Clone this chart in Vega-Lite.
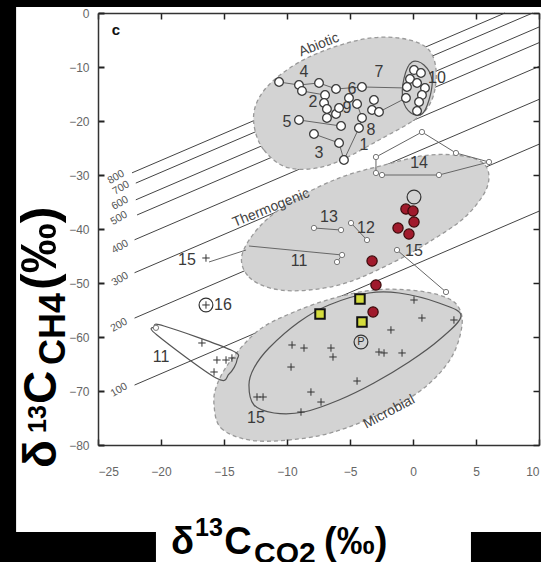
{
  "$schema": "https://vega.github.io/schema/vega-lite/v6.json",
  "width": 441,
  "height": 432,
  "autosize": {"type": "none"},
  "padding": {"left": 98, "top": 13, "right": 2, "bottom": 117},
  "background": "black",
  "config": {"view": {"stroke": null}, "font": "Liberation Sans"},
  "datasets": {
    "isotherms": [
      {"t": "800", "x": -22.3, "y": -29.6}, {"t": "800", "x": 7.3, "y": 0},
      {"t": "700", "x": -22.0, "y": -31.5}, {"t": "700", "x": 9.5, "y": 0},
      {"t": "600", "x": -22.0, "y": -34.6}, {"t": "600", "x": 10, "y": -2.6},
      {"t": "500", "x": -21.9, "y": -37.4}, {"t": "500", "x": 10, "y": -5.5},
      {"t": "400", "x": -22.1, "y": -42.0}, {"t": "400", "x": 10, "y": -9.9},
      {"t": "300", "x": -22.1, "y": -48.1}, {"t": "300", "x": 10, "y": -16.0},
      {"t": "200", "x": -22.1, "y": -56.5}, {"t": "200", "x": 10, "y": -24.3},
      {"t": "100", "x": -22.1, "y": -68.9}, {"t": "100", "x": 10, "y": -36.7}
    ],
    "isoLabels": [
      {"t": "800", "x": -23.57, "y": -30.4},
      {"t": "700", "x": -23.17, "y": -32.4},
      {"t": "600", "x": -23.25, "y": -35.2},
      {"t": "500", "x": -23.33, "y": -38.0},
      {"t": "400", "x": -23.25, "y": -43.3},
      {"t": "300", "x": -23.25, "y": -49.3},
      {"t": "200", "x": -23.33, "y": -57.8},
      {"t": "100", "x": -23.33, "y": -69.8}
    ],
    "regions": [
      {"r": "Abiotic", "i": 0, "x": -12.62, "y": -20.74},
      {"r": "Abiotic", "i": 1, "x": -11.83, "y": -25.37},
      {"r": "Abiotic", "i": 2, "x": -9.84, "y": -28.7},
      {"r": "Abiotic", "i": 3, "x": -6.67, "y": -28.15},
      {"r": "Abiotic", "i": 4, "x": -2.7, "y": -23.52},
      {"r": "Abiotic", "i": 5, "x": 0.87, "y": -18.33},
      {"r": "Abiotic", "i": 6, "x": 1.83, "y": -12.41},
      {"r": "Abiotic", "i": 7, "x": 1.27, "y": -6.85},
      {"r": "Abiotic", "i": 8, "x": -1.11, "y": -4.63},
      {"r": "Abiotic", "i": 9, "x": -4.29, "y": -5.0},
      {"r": "Abiotic", "i": 10, "x": -8.25, "y": -8.15},
      {"r": "Abiotic", "i": 11, "x": -11.03, "y": -12.41},
      {"r": "Abiotic", "i": 12, "x": -12.38, "y": -16.48},
      {"r": "Thermogenic", "i": 0, "x": -13.57, "y": -44.81},
      {"r": "Thermogenic", "i": 1, "x": -13.02, "y": -48.89},
      {"r": "Thermogenic", "i": 2, "x": -11.03, "y": -51.11},
      {"r": "Thermogenic", "i": 3, "x": -8.25, "y": -51.3},
      {"r": "Thermogenic", "i": 4, "x": -5.08, "y": -49.81},
      {"r": "Thermogenic", "i": 5, "x": -1.51, "y": -46.11},
      {"r": "Thermogenic", "i": 6, "x": 1.27, "y": -42.41},
      {"r": "Thermogenic", "i": 7, "x": 4.05, "y": -37.96},
      {"r": "Thermogenic", "i": 8, "x": 5.79, "y": -32.78},
      {"r": "Thermogenic", "i": 9, "x": 5.87, "y": -28.7},
      {"r": "Thermogenic", "i": 10, "x": 4.44, "y": -26.67},
      {"r": "Thermogenic", "i": 11, "x": 1.27, "y": -26.3},
      {"r": "Thermogenic", "i": 12, "x": -2.3, "y": -28.15},
      {"r": "Thermogenic", "i": 13, "x": -5.87, "y": -30.56},
      {"r": "Thermogenic", "i": 14, "x": -9.44, "y": -34.63},
      {"r": "Thermogenic", "i": 15, "x": -12.06, "y": -39.26},
      {"r": "Microbial", "i": 0, "x": -15.79, "y": -72.59},
      {"r": "Microbial", "i": 1, "x": -15.24, "y": -76.85},
      {"r": "Microbial", "i": 2, "x": -13.02, "y": -79.07},
      {"r": "Microbial", "i": 3, "x": -9.84, "y": -79.07},
      {"r": "Microbial", "i": 4, "x": -6.27, "y": -77.59},
      {"r": "Microbial", "i": 5, "x": -2.3, "y": -73.89},
      {"r": "Microbial", "i": 6, "x": 0.87, "y": -69.44},
      {"r": "Microbial", "i": 7, "x": 3.02, "y": -63.89},
      {"r": "Microbial", "i": 8, "x": 3.89, "y": -57.78},
      {"r": "Microbial", "i": 9, "x": 3.49, "y": -54.07},
      {"r": "Microbial", "i": 10, "x": 2.06, "y": -52.22},
      {"r": "Microbial", "i": 11, "x": -0.32, "y": -51.3},
      {"r": "Microbial", "i": 12, "x": -3.1, "y": -51.3},
      {"r": "Microbial", "i": 13, "x": -6.27, "y": -52.78},
      {"r": "Microbial", "i": 14, "x": -9.44, "y": -55.37},
      {"r": "Microbial", "i": 15, "x": -12.22, "y": -58.7},
      {"r": "Microbial", "i": 16, "x": -14.44, "y": -64.26},
      {"r": "Microbial", "i": 17, "x": -15.56, "y": -68.89}
    ],
    "outlines": [
      {"g": "microbial core", "i": 0, "x": -13.02, "y": -68.89},
      {"g": "microbial core", "i": 1, "x": -12.62, "y": -72.59},
      {"g": "microbial core", "i": 2, "x": -11.03, "y": -74.07},
      {"g": "microbial core", "i": 3, "x": -8.65, "y": -73.89},
      {"g": "microbial core", "i": 4, "x": -5.87, "y": -71.67},
      {"g": "microbial core", "i": 5, "x": -3.1, "y": -68.52},
      {"g": "microbial core", "i": 6, "x": -0.32, "y": -64.63},
      {"g": "microbial core", "i": 7, "x": 2.06, "y": -60.56},
      {"g": "microbial core", "i": 8, "x": 3.81, "y": -56.11},
      {"g": "microbial core", "i": 9, "x": 2.06, "y": -53.7},
      {"g": "microbial core", "i": 10, "x": -1.11, "y": -51.85},
      {"g": "microbial core", "i": 11, "x": -3.49, "y": -51.85},
      {"g": "microbial core", "i": 12, "x": -6.67, "y": -54.07},
      {"g": "microbial core", "i": 13, "x": -9.05, "y": -57.22},
      {"g": "microbial core", "i": 14, "x": -11.43, "y": -62.04},
      {"g": "microbial core", "i": 15, "x": -12.62, "y": -65.74},
      {"g": "site 11", "i": 0, "x": -20.56, "y": -58.15},
      {"g": "site 11", "i": 1, "x": -19.76, "y": -57.96},
      {"g": "site 11", "i": 2, "x": -14.44, "y": -62.41},
      {"g": "site 11", "i": 3, "x": -13.97, "y": -64.26},
      {"g": "site 11", "i": 4, "x": -14.6, "y": -66.85},
      {"g": "site 11", "i": 5, "x": -15.63, "y": -67.59},
      {"g": "site 11", "i": 6, "x": -20.32, "y": -59.63},
      {"g": "site 10", "i": 0, "x": -0.08, "y": -9.07},
      {"g": "site 10", "i": 1, "x": 0.87, "y": -9.63},
      {"g": "site 10", "i": 2, "x": 1.51, "y": -12.41},
      {"g": "site 10", "i": 3, "x": 1.27, "y": -16.11},
      {"g": "site 10", "i": 4, "x": 0.71, "y": -18.7},
      {"g": "site 10", "i": 5, "x": -0.16, "y": -18.52},
      {"g": "site 10", "i": 6, "x": -0.79, "y": -16.11},
      {"g": "site 10", "i": 7, "x": -0.71, "y": -12.04}
    ],
    "paths": [
      {"g": "4", "i": 0, "x": -10.63, "y": -12.78},
      {"g": "4", "i": 1, "x": -9.05, "y": -13.33},
      {"g": "4", "i": 2, "x": -7.46, "y": -12.96},
      {"g": "4", "i": 3, "x": -6.11, "y": -14.07},
      {"g": "7", "i": 0, "x": -6.11, "y": -14.07},
      {"g": "7", "i": 1, "x": -4.05, "y": -13.7},
      {"g": "7", "i": 2, "x": -0.48, "y": -13.89},
      {"g": "2", "i": 0, "x": -8.81, "y": -14.44},
      {"g": "2", "i": 1, "x": -6.98, "y": -15.19},
      {"g": "2", "i": 2, "x": -7.06, "y": -16.67},
      {"g": "2", "i": 3, "x": -6.83, "y": -19.44},
      {"g": "2", "i": 4, "x": -6.11, "y": -18.7},
      {"g": "2", "i": 5, "x": -5.87, "y": -17.59},
      {"g": "6", "i": 0, "x": -4.44, "y": -16.85},
      {"g": "6", "i": 1, "x": -4.05, "y": -19.44},
      {"g": "6", "i": 2, "x": -4.29, "y": -21.3},
      {"g": "8", "i": 0, "x": -3.25, "y": -17.96},
      {"g": "8", "i": 1, "x": -2.7, "y": -18.33},
      {"g": "8", "i": 2, "x": -0.56, "y": -15.74},
      {"g": "5", "i": 0, "x": -9.05, "y": -19.81},
      {"g": "5", "i": 1, "x": -5.71, "y": -20.93},
      {"g": "3", "i": 0, "x": -7.86, "y": -22.41},
      {"g": "3", "i": 1, "x": -5.87, "y": -24.07},
      {"g": "3", "i": 2, "x": -5.48, "y": -27.22},
      {"g": "1", "i": 0, "x": -5.48, "y": -27.22},
      {"g": "1", "i": 1, "x": -4.29, "y": -21.3},
      {"g": "14", "i": 0, "x": -2.94, "y": -26.67},
      {"g": "14", "i": 1, "x": 0.71, "y": -22.04},
      {"g": "14", "i": 2, "x": 3.41, "y": -25.93},
      {"g": "14", "i": 3, "x": 6.03, "y": -27.59},
      {"g": "14", "i": 4, "x": 2.06, "y": -30.0},
      {"g": "14", "i": 5, "x": -2.46, "y": -30.0},
      {"g": "14", "i": 6, "x": -2.94, "y": -29.63},
      {"g": "14", "i": 7, "x": -2.94, "y": -26.67},
      {"g": "13", "i": 0, "x": -7.86, "y": -39.81},
      {"g": "13", "i": 1, "x": -5.71, "y": -40.19},
      {"g": "12", "i": 0, "x": -4.92, "y": -38.89},
      {"g": "12", "i": 1, "x": -3.65, "y": -42.04},
      {"g": "11t", "i": 0, "x": -13.02, "y": -43.15},
      {"g": "11t", "i": 1, "x": -5.63, "y": -44.81},
      {"g": "11t", "i": 2, "x": -6.03, "y": -46.11},
      {"g": "15t", "i": 0, "x": -1.27, "y": -43.89},
      {"g": "15t", "i": 1, "x": 2.62, "y": -51.67},
      {"g": "15l", "i": 0, "x": -16.19, "y": -46.11},
      {"g": "15l", "i": 1, "x": -13.25, "y": -43.89}
    ],
    "abiotic": [
      {"x": -10.63, "y": -12.78}, {"x": -9.05, "y": -13.33}, {"x": -8.81, "y": -14.44},
      {"x": -7.46, "y": -12.96}, {"x": -6.98, "y": -15.19}, {"x": -6.11, "y": -14.07},
      {"x": -7.06, "y": -16.67}, {"x": -6.83, "y": -17.78}, {"x": -6.83, "y": -19.44},
      {"x": -6.11, "y": -18.7}, {"x": -5.87, "y": -17.59}, {"x": -5.71, "y": -20.93},
      {"x": -4.05, "y": -13.7}, {"x": -4.44, "y": -16.85}, {"x": -4.05, "y": -19.44},
      {"x": -4.29, "y": -21.3}, {"x": -3.1, "y": -16.11}, {"x": -3.25, "y": -17.96},
      {"x": -2.7, "y": -18.33}, {"x": -9.05, "y": -19.81}, {"x": -7.86, "y": -22.41},
      {"x": -5.87, "y": -24.07}, {"x": -5.48, "y": -27.22}, {"x": -5.08, "y": -15.74},
      {"x": 0.08, "y": -10.56}, {"x": 0.63, "y": -11.11}, {"x": -0.24, "y": -12.22},
      {"x": 0.32, "y": -12.96}, {"x": 0.95, "y": -13.89}, {"x": -0.48, "y": -13.7},
      {"x": 0.71, "y": -15.19}, {"x": -0.56, "y": -15.74}, {"x": 0.48, "y": -16.48},
      {"x": 0.32, "y": -18.15}
    ],
    "thermo": [
      {"x": -2.94, "y": -26.67}, {"x": 0.71, "y": -22.04}, {"x": 3.41, "y": -25.93},
      {"x": 6.03, "y": -27.59}, {"x": 2.06, "y": -30.0}, {"x": -2.46, "y": -30.0},
      {"x": -2.94, "y": -29.63}, {"x": -7.86, "y": -39.81}, {"x": -5.71, "y": -40.19},
      {"x": -4.92, "y": -38.89}, {"x": -3.65, "y": -42.04}, {"x": -5.63, "y": -44.81},
      {"x": -6.03, "y": -46.11}, {"x": -1.27, "y": -43.89}, {"x": 2.62, "y": -51.67},
      {"x": -20.4, "y": -58.3}
    ],
    "pluses": [
      {"x": 0.08, "y": -53.15}, {"x": 0.71, "y": -56.48}, {"x": 3.25, "y": -56.85},
      {"x": -1.75, "y": -58.7}, {"x": -9.6, "y": -61.48}, {"x": -8.65, "y": -62.04},
      {"x": -6.51, "y": -62.04}, {"x": -6.35, "y": -63.7}, {"x": -2.7, "y": -62.78},
      {"x": -2.3, "y": -62.96}, {"x": -0.87, "y": -62.96}, {"x": -9.68, "y": -65.56},
      {"x": -4.44, "y": -68.15}, {"x": -8.1, "y": -70.19}, {"x": -7.3, "y": -72.04},
      {"x": -8.89, "y": -73.89}, {"x": -12.38, "y": -71.11}, {"x": -11.9, "y": -71.11},
      {"x": -16.75, "y": -61.11}, {"x": -15.56, "y": -64.26}, {"x": -14.84, "y": -64.26},
      {"x": -14.37, "y": -63.89}, {"x": -15.79, "y": -66.48}, {"x": -16.43, "y": -45.37},
      {"x": -16.43, "y": -54.07}
    ],
    "red": [
      {"x": -0.56, "y": -36.3}, {"x": 0.0, "y": -36.67}, {"x": 0.08, "y": -38.7},
      {"x": -1.19, "y": -39.81}, {"x": -0.32, "y": -40.93}, {"x": -3.25, "y": -45.93},
      {"x": -2.94, "y": -50.37}, {"x": -3.17, "y": -55.37}
    ],
    "yellow": [
      {"x": -7.38, "y": -55.74}, {"x": -4.21, "y": -52.96}, {"x": -4.05, "y": -57.22}
    ],
    "rings": [
      {"s": "P", "x": -4.13, "y": -60.93},
      {"s": "", "x": -16.43, "y": -54.07},
      {"s": "", "x": 0.08, "y": -34.07}
    ],
    "labels": [
      {"text": "4", "x": -8.65, "y": -10.93}, {"text": "7", "x": -2.7, "y": -10.93},
      {"text": "6", "x": -4.84, "y": -14.07}, {"text": "2", "x": -7.94, "y": -16.48},
      {"text": "9", "x": -5.24, "y": -17.59}, {"text": "5", "x": -10.0, "y": -20.19},
      {"text": "8", "x": -3.33, "y": -21.67}, {"text": "3", "x": -7.46, "y": -25.93},
      {"text": "1", "x": -3.89, "y": -24.44}, {"text": "10", "x": 1.9, "y": -12.04},
      {"text": "14", "x": 0.48, "y": -27.78}, {"text": "13", "x": -6.67, "y": -37.78},
      {"text": "12", "x": -3.73, "y": -39.81}, {"text": "11", "x": -9.05, "y": -45.93},
      {"text": "15", "x": 0.08, "y": -44.07}, {"text": "15", "x": -17.94, "y": -45.74},
      {"text": "16", "x": -15.08, "y": -54.07}, {"text": "11", "x": -20.0, "y": -63.7},
      {"text": "15", "x": -12.46, "y": -75.0}
    ],
    "regionLabels": [
      {"text": "Abiotic", "x": -7.46, "y": -5.93},
      {"text": "Thermogenic", "x": -11.27, "y": -36.11}
    ],
    "yTitle": [
      {"part": "δ", "role": "main", "x": -28.33, "y": -84.26},
      {"part": "13", "role": "sup", "x": -29.13, "y": -77.78},
      {"part": "C", "role": "main", "x": -28.33, "y": -72.41},
      {"part": "CH4", "role": "sub", "x": -27.62, "y": -65.19},
      {"part": "(‰)", "role": "unit", "x": -28.33, "y": -51.3}
    ],
    "xTitle": [
      {"part": "δ", "role": "main", "x": -19.21, "y": -100.19},
      {"part": "13", "role": "sup", "x": -17.3, "y": -96.85},
      {"part": "C", "role": "main", "x": -14.99, "y": -100.19},
      {"part": "CO2", "role": "sub", "x": -12.62, "y": -101.85},
      {"part": "(‰)", "role": "main", "x": -7.06, "y": -100.19}
    ]
  },
  "resolve": {"axis": {"x": "independent", "y": "independent"}},
  "layer": [
    {
      "data": {"values": [{"panel": 1}]},
      "mark": {"type": "rect", "fill": "white"},
      "encoding": {
        "x": {"datum": -31.5, "type": "quantitative", "scale": {"domain": [-25, 10], "nice": false, "zero": false}, "axis": null},
        "x2": {"datum": 10.2},
        "y": {"datum": 1.1, "type": "quantitative", "scale": {"domain": [-80, 0], "nice": false, "zero": false}, "axis": null},
        "y2": {"datum": -96.1}
      }
    },
    {
      "data": {"values": [{"panel": 2}]},
      "mark": {"type": "rect", "fill": "white"},
      "encoding": {
        "x": {"datum": -20.4, "type": "quantitative", "axis": null},
        "x2": {"datum": 4.6},
        "y": {"datum": -95, "type": "quantitative", "axis": null},
        "y2": {"datum": -103}
      }
    },
    {
      "data": {"name": "isotherms"},
      "mark": {"type": "line", "stroke": "#444", "strokeWidth": 1},
      "encoding": {
        "x": {"field": "x", "type": "quantitative", "axis": null},
        "y": {"field": "y", "type": "quantitative", "axis": null},
        "detail": {"field": "t"}
      }
    },
    {
      "data": {"name": "isoLabels"},
      "mark": {"type": "text", "angle": 330, "fontSize": 10.5, "fill": "#555", "align": "center", "baseline": "middle"},
      "encoding": {
        "x": {"field": "x", "type": "quantitative", "axis": null},
        "y": {"field": "y", "type": "quantitative", "axis": null},
        "text": {"field": "t"}
      }
    },
    {
      "data": {"name": "regions"},
      "mark": {"type": "line", "interpolate": "cardinal-closed", "fill": "#d3d3d3", "stroke": "#999", "strokeWidth": 1.3, "strokeDash": [4, 3]},
      "encoding": {
        "x": {"field": "x", "type": "quantitative", "axis": null},
        "y": {"field": "y", "type": "quantitative", "axis": null},
        "detail": {"field": "r"},
        "order": {"field": "i"}
      }
    },
    {
      "data": {"name": "outlines"},
      "mark": {"type": "line", "interpolate": "cardinal-closed", "stroke": "#555", "strokeWidth": 1.2},
      "encoding": {
        "x": {"field": "x", "type": "quantitative", "axis": null},
        "y": {"field": "y", "type": "quantitative", "axis": null},
        "detail": {"field": "g"},
        "order": {"field": "i"}
      }
    },
    {
      "data": {"name": "paths"},
      "mark": {"type": "line", "stroke": "#666", "strokeWidth": 1},
      "encoding": {
        "x": {"field": "x", "type": "quantitative", "axis": null},
        "y": {"field": "y", "type": "quantitative", "axis": null},
        "detail": {"field": "g"},
        "order": {"field": "i"}
      }
    },
    {
      "data": {"name": "pluses"},
      "mark": {"type": "point", "shape": "M-1,0L1,0M0,-1L0,1", "filled": false, "stroke": "#333", "strokeWidth": 1, "size": 55, "opacity": 1},
      "encoding": {
        "x": {"field": "x", "type": "quantitative",
          "axis": {"orient": "bottom", "zindex": 1, "values": [-25, -20, -15, -10, -5, 0, 5, 10], "title": null, "grid": false,
            "domainColor": "#333", "domainWidth": 1.5, "tickColor": "#222", "tickWidth": 1.5, "tickSize": -6,
            "labelPadding": 27, "labelFontSize": 12, "labelColor": "#666", "labelFont": "Liberation Sans"}},
        "y": {"field": "y", "type": "quantitative",
          "axis": {"orient": "left", "zindex": 1, "values": [-80, -70, -60, -50, -40, -30, -20, -10, 0], "title": null, "grid": false,
            "domainColor": "#333", "domainWidth": 1.5, "tickColor": "#222", "tickWidth": 2, "tickSize": -6,
            "labelPadding": 15, "labelFontSize": 12, "labelColor": "#666", "labelFont": "Liberation Sans"}}
      }
    },
    {
      "data": {"name": "abiotic"},
      "mark": {"type": "point", "shape": "circle", "filled": true, "fill": "white", "stroke": "#3a3a3a", "strokeWidth": 1.3, "size": 75, "opacity": 1},
      "encoding": {
        "x": {"field": "x", "type": "quantitative", "axis": null},
        "y": {"field": "y", "type": "quantitative", "axis": null}
      }
    },
    {
      "data": {"name": "thermo"},
      "mark": {"type": "point", "shape": "circle", "filled": true, "fill": "white", "stroke": "#777", "strokeWidth": 1, "size": 28, "opacity": 1},
      "encoding": {
        "x": {"field": "x", "type": "quantitative", "axis": null},
        "y": {"field": "y", "type": "quantitative", "axis": null}
      }
    },
    {
      "data": {"name": "red"},
      "mark": {"type": "point", "shape": "circle", "filled": true, "fill": "#a01a2c", "stroke": "#3a0a0a", "strokeWidth": 1.2, "size": 105, "opacity": 1},
      "encoding": {
        "x": {"field": "x", "type": "quantitative",
          "axis": {"orient": "top", "zindex": 1, "values": [-25, -20, -15, -10, -5, 0, 5, 10], "title": null, "grid": false, "labels": false,
            "domainColor": "#333", "domainWidth": 1.5, "tickColor": "#222", "tickWidth": 1.5, "tickSize": -6}},
        "y": {"field": "y", "type": "quantitative",
          "axis": {"orient": "right", "zindex": 1, "values": [-80, -70, -60, -50, -40, -30, -20, -10, 0], "title": null, "grid": false, "labels": false,
            "domainColor": "#333", "domainWidth": 1.5, "tickColor": "#222", "tickWidth": 1.5, "tickSize": -6}}
      }
    },
    {
      "data": {"name": "yellow"},
      "mark": {"type": "point", "shape": "square", "filled": true, "fill": "#d4dc3c", "stroke": "#111", "strokeWidth": 2, "size": 90, "opacity": 1},
      "encoding": {
        "x": {"field": "x", "type": "quantitative", "axis": null},
        "y": {"field": "y", "type": "quantitative", "axis": null}
      }
    },
    {
      "data": {"name": "rings"},
      "mark": {"type": "point", "shape": "circle", "filled": false, "stroke": "#333", "strokeWidth": 1.2, "size": 190, "opacity": 1},
      "encoding": {
        "x": {"field": "x", "type": "quantitative", "axis": null},
        "y": {"field": "y", "type": "quantitative", "axis": null}
      }
    },
    {
      "data": {"name": "rings"},
      "mark": {"type": "text", "fontSize": 11, "fill": "#333", "align": "center", "baseline": "middle"},
      "encoding": {
        "x": {"field": "x", "type": "quantitative", "axis": null},
        "y": {"field": "y", "type": "quantitative", "axis": null},
        "text": {"field": "s"}
      }
    },
    {
      "data": {"name": "labels"},
      "mark": {"type": "text", "fontSize": 16, "fill": "#3a3a3a", "align": "center", "baseline": "middle"},
      "encoding": {
        "x": {"field": "x", "type": "quantitative", "axis": null},
        "y": {"field": "y", "type": "quantitative", "axis": null},
        "text": {"field": "text"}
      }
    },
    {
      "data": {"name": "regionLabels"},
      "mark": {"type": "text", "fontSize": 14, "fill": "#444", "angle": 338, "align": "center", "baseline": "middle"},
      "encoding": {
        "x": {"field": "x", "type": "quantitative", "axis": null},
        "y": {"field": "y", "type": "quantitative", "axis": null},
        "text": {"field": "text"}
      }
    },
    {
      "data": {"values": [{"text": "Microbial", "x": -1.9, "y": -73.89}]},
      "mark": {"type": "text", "fontSize": 14, "fill": "#444", "angle": 332, "align": "center", "baseline": "middle"},
      "encoding": {
        "x": {"field": "x", "type": "quantitative", "axis": null},
        "y": {"field": "y", "type": "quantitative", "axis": null},
        "text": {"field": "text"}
      }
    },
    {
      "data": {"values": [{"text": "c", "x": -23.57, "y": -3.15}]},
      "mark": {"type": "text", "fontSize": 15, "fontWeight": "bold", "fill": "#111", "align": "center", "baseline": "middle"},
      "encoding": {
        "x": {"field": "x", "type": "quantitative", "axis": null},
        "y": {"field": "y", "type": "quantitative", "axis": null},
        "text": {"field": "text"}
      }
    },
    {
      "data": {"name": "yTitle"},
      "transform": [{"filter": "datum.role == 'main'"}],
      "mark": {"type": "text", "fontSize": 46, "fontWeight": "bold", "fill": "black", "angle": 270, "align": "left", "baseline": "alphabetic"},
      "encoding": {
        "x": {"field": "x", "type": "quantitative", "axis": null},
        "y": {"field": "y", "type": "quantitative", "axis": null},
        "text": {"field": "part"}
      }
    },
    {
      "data": {"name": "yTitle"},
      "transform": [{"filter": "datum.role == 'unit'"}],
      "mark": {"type": "text", "fontSize": 50, "fontWeight": "bold", "fill": "black", "angle": 270, "align": "left", "baseline": "alphabetic"},
      "encoding": {
        "x": {"field": "x", "type": "quantitative", "axis": null},
        "y": {"field": "y", "type": "quantitative", "axis": null},
        "text": {"field": "part"}
      }
    },
    {
      "data": {"name": "yTitle"},
      "transform": [{"filter": "datum.role == 'sup'"}],
      "mark": {"type": "text", "fontSize": 25, "fontWeight": "bold", "fill": "black", "angle": 270, "align": "left", "baseline": "alphabetic"},
      "encoding": {
        "x": {"field": "x", "type": "quantitative", "axis": null},
        "y": {"field": "y", "type": "quantitative", "axis": null},
        "text": {"field": "part"}
      }
    },
    {
      "data": {"name": "yTitle"},
      "transform": [{"filter": "datum.role == 'sub'"}],
      "mark": {"type": "text", "fontSize": 36, "fontWeight": "bold", "fill": "black", "angle": 270, "align": "left", "baseline": "alphabetic"},
      "encoding": {
        "x": {"field": "x", "type": "quantitative", "axis": null},
        "y": {"field": "y", "type": "quantitative", "axis": null},
        "text": {"field": "part"}
      }
    },
    {
      "data": {"name": "xTitle"},
      "transform": [{"filter": "datum.role == 'main'"}],
      "mark": {"type": "text", "fontSize": 38, "fontWeight": "bold", "fill": "black", "align": "left", "baseline": "alphabetic"},
      "encoding": {
        "x": {"field": "x", "type": "quantitative", "axis": null},
        "y": {"field": "y", "type": "quantitative", "axis": null},
        "text": {"field": "part"}
      }
    },
    {
      "data": {"name": "xTitle"},
      "transform": [{"filter": "datum.role == 'sup'"}],
      "mark": {"type": "text", "fontSize": 25, "fontWeight": "bold", "fill": "black", "align": "left", "baseline": "alphabetic"},
      "encoding": {
        "x": {"field": "x", "type": "quantitative", "axis": null},
        "y": {"field": "y", "type": "quantitative", "axis": null},
        "text": {"field": "part"}
      }
    },
    {
      "data": {"name": "xTitle"},
      "transform": [{"filter": "datum.role == 'sub'"}],
      "mark": {"type": "text", "fontSize": 30, "fontWeight": "bold", "fill": "black", "align": "left", "baseline": "alphabetic"},
      "encoding": {
        "x": {"field": "x", "type": "quantitative", "axis": null},
        "y": {"field": "y", "type": "quantitative", "axis": null},
        "text": {"field": "part"}
      }
    }
  ]
}
